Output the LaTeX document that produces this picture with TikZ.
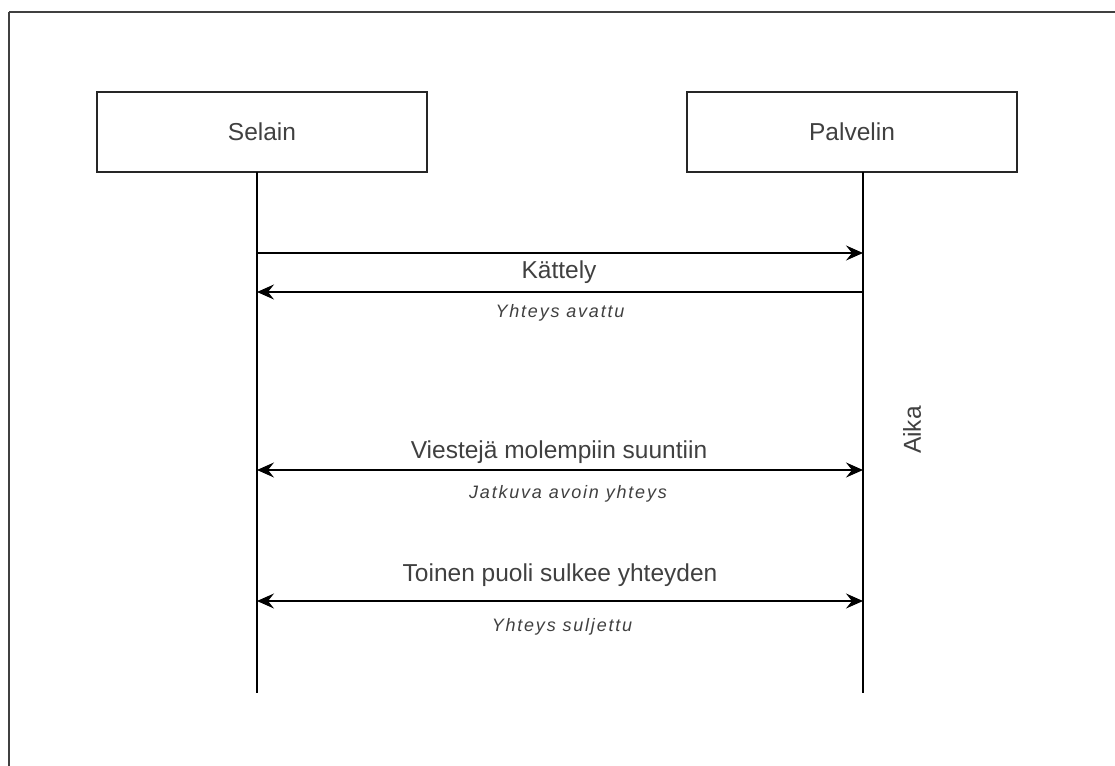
\documentclass[tikz,border=0pt]{standalone}
\usepackage{fontspec}
\setmainfont{Liberation Sans}
\newfontfamily\labitfont[LetterSpace=10]{Liberation Sans Italic}
\usetikzlibrary{arrows.meta}
\begin{document}
\begin{tikzpicture}[x=1pt,y=-1pt,
  actorbox/.style={draw=black!85,line width=1.8pt,minimum width=330pt,minimum height=80pt,inner sep=0pt,
     text=black!75,font=\fontsize{24.5}{28}\selectfont},
  lifeline/.style={draw=black,line width=1.4pt},
  msg/.style={draw=black,line width=1.6pt},
  onetip/.style={-{Stealth[length=17pt,width=15pt,inset=6pt]}},
  twotip/.style={{Stealth[length=17pt,width=15pt,inset=6pt]}-{Stealth[length=17pt,width=15pt,inset=6pt]}},
  msglabel/.style={text=black!75,font=\fontsize{24.5}{28}\selectfont,inner sep=0pt},
  itlabel/.style={text=black!75,font=\labitfont\fontsize{18}{21}\selectfont,inner sep=0pt}]
\useasboundingbox (0,0) rectangle (1115,765);
\draw[draw=black!75,line width=2pt] (9,12) -- (1120,12);
\draw[draw=black!75,line width=2pt] (9,12) -- (9,770);
\node[actorbox] (selain) at (262,132) {Selain};
\node[actorbox] (palvelin) at (852,132) {Palvelin};
\coordinate (s0) at (257,172);
\coordinate (s1) at (257,253);
\coordinate (s2) at (257,292);
\coordinate (s3) at (257,470);
\coordinate (s4) at (257,601);
\coordinate (s5) at (257,693);
\coordinate (p0) at (863,172);
\coordinate (p1) at (863,253);
\coordinate (p2) at (863,292);
\coordinate (p3) at (863,470);
\coordinate (p4) at (863,601);
\coordinate (p5) at (863,693);
\draw[lifeline] (s0) -- (s5);
\draw[lifeline] (p0) -- (p5);
\draw[msg,onetip] (s1) -- (p1);
\draw[msg,onetip] (p2) -- (s2);
\draw[msg,twotip] (s3) -- (p3);
\draw[msg,twotip] (s4) -- (p4);
\node[msglabel] (k) at (559,272) {Kättely};
\node[itlabel] (ya) at (560,313) {Yhteys avattu};
\node[msglabel] (v) at (559,452) {Viestejä molempiin suuntiin};
\node[itlabel] (ja) at (568,494) {Jatkuva avoin yhteys};
\node[msglabel] (t) at (560,575) {Toinen puoli sulkee yhteyden};
\node[itlabel] (ys) at (562,627) {Yhteys suljettu};
\node[msglabel,rotate=90] (aika) at (912,430) {Aika};
\end{tikzpicture}
\end{document}
